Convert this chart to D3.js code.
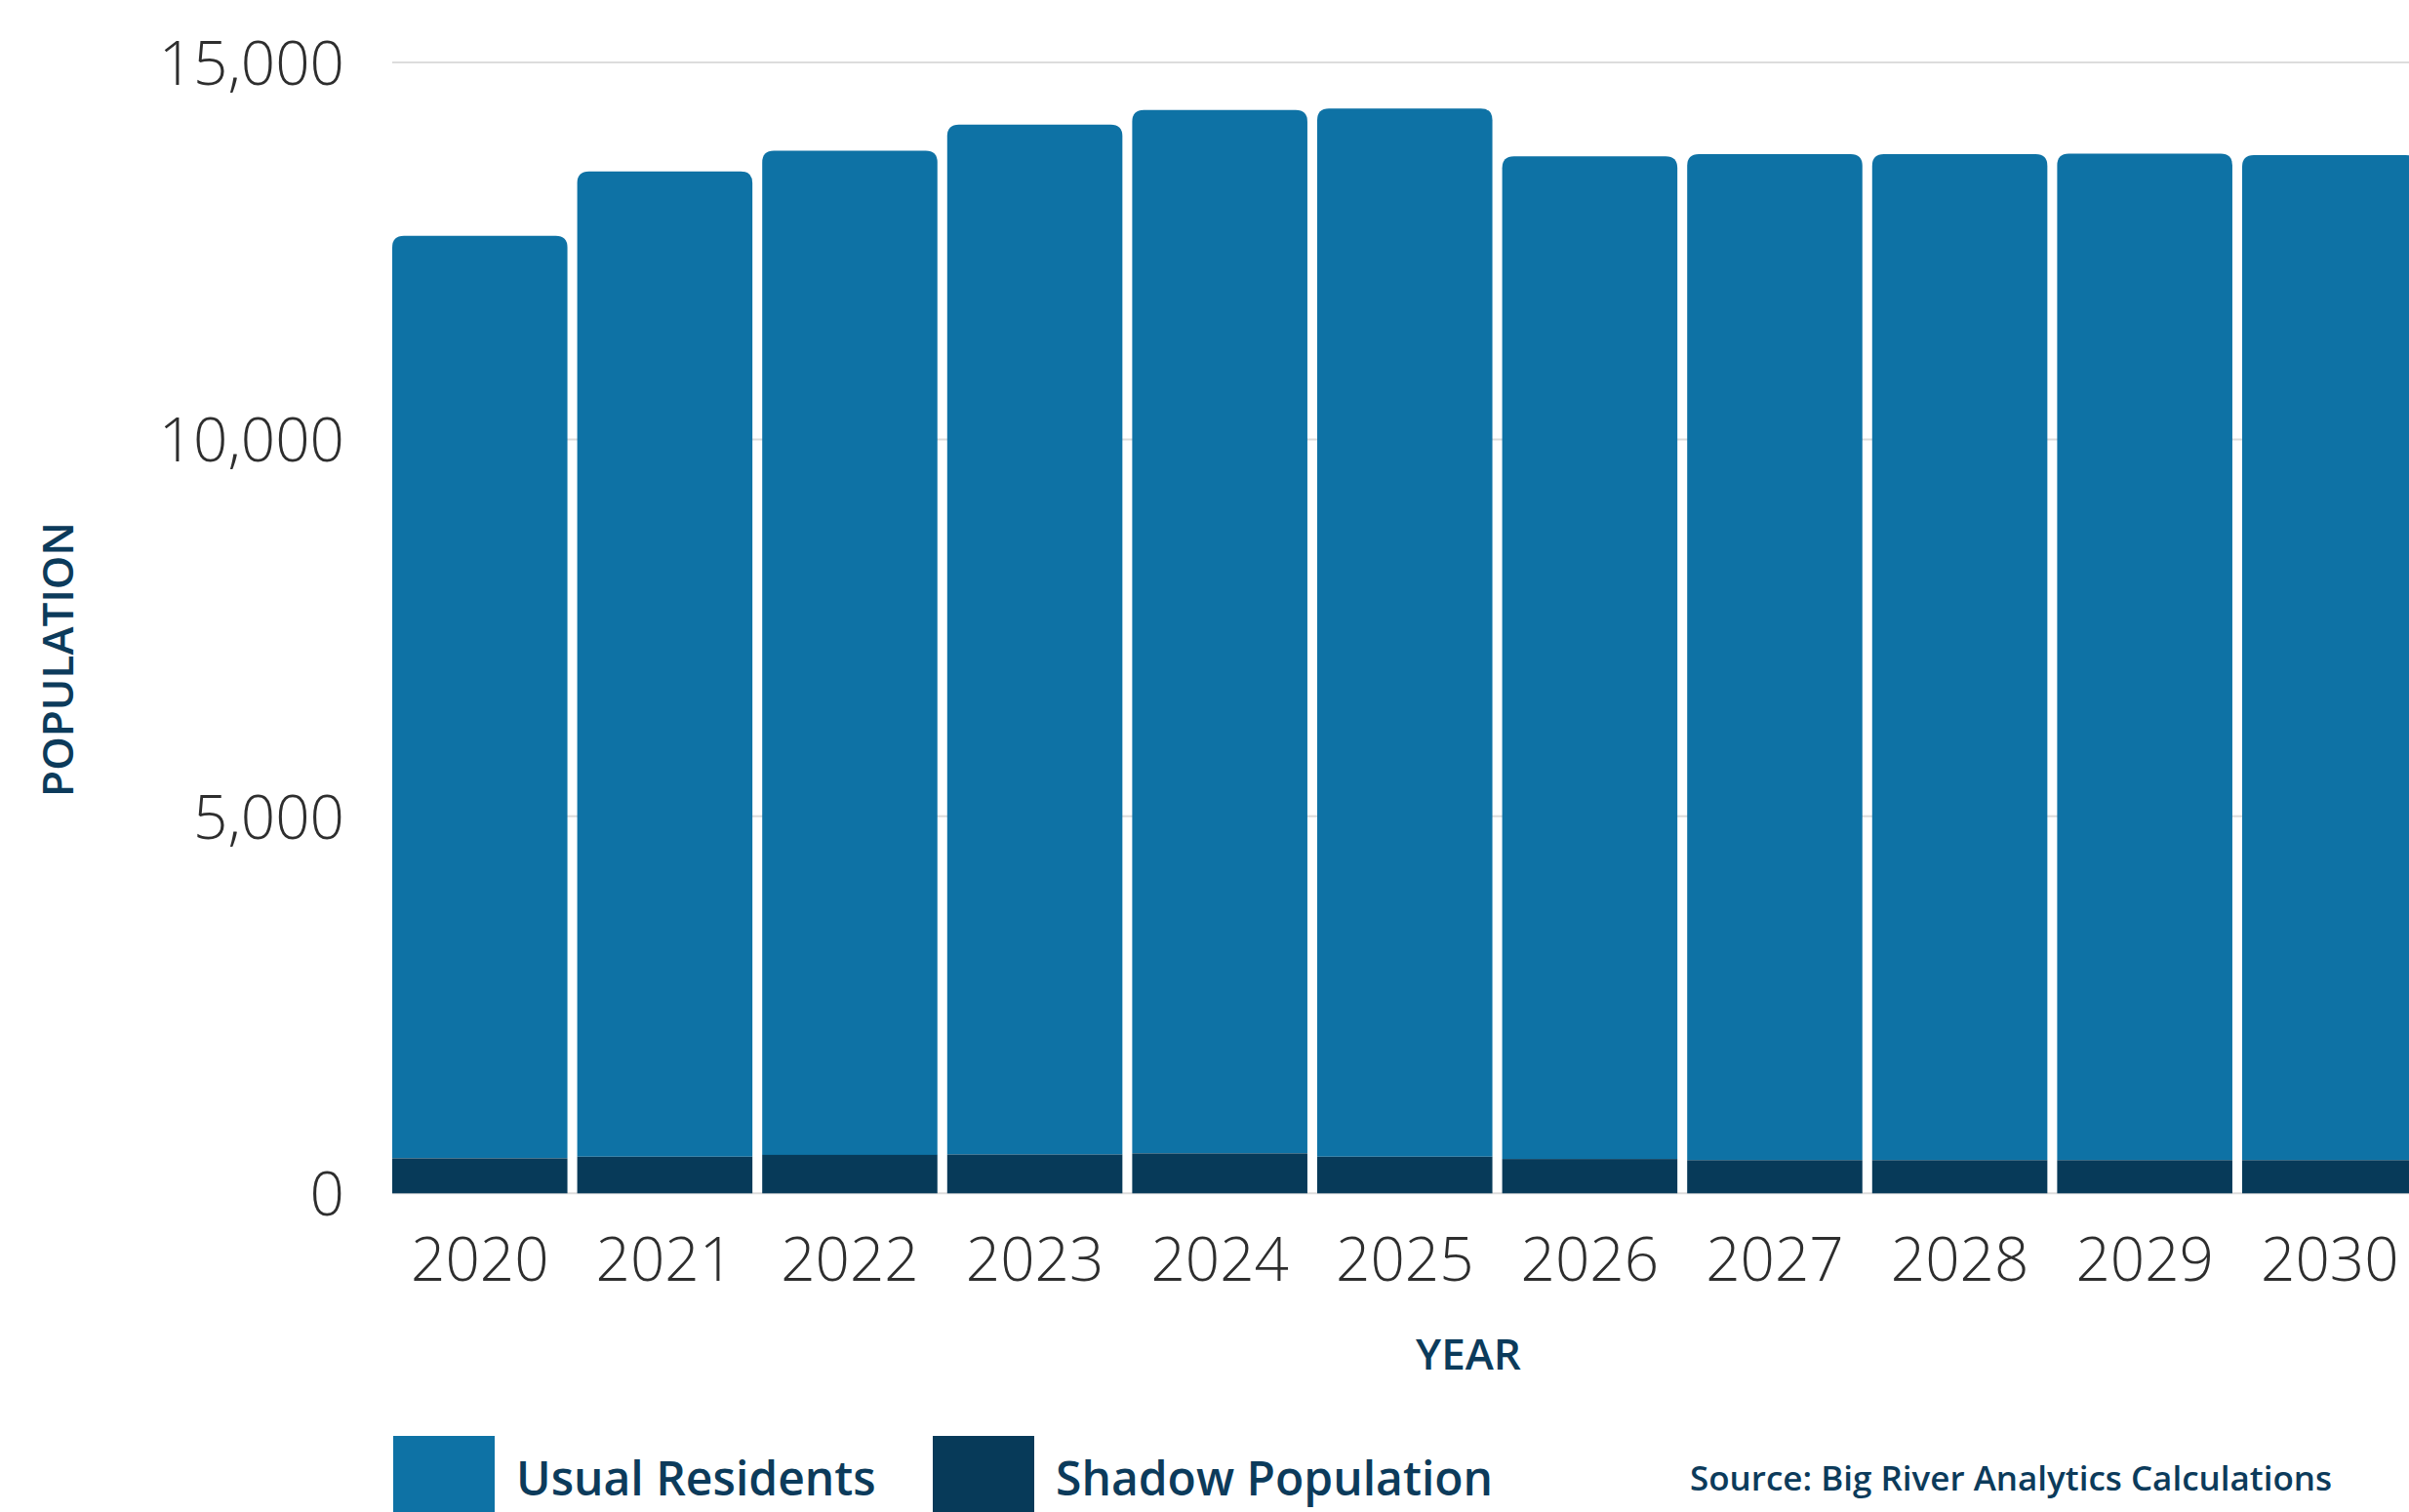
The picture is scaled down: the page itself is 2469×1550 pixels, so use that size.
<!DOCTYPE html>
<html>
<head>
<meta charset="utf-8">
<script src="https://cdn.jsdelivr.net/npm/d3@7"></script>
<style>
  html, body { margin: 0; padding: 0; background: #ffffff; overflow: hidden; }
  svg { display: block; }
</style>
</head>
<body>
<script>
// ---- data ----
const years = ["2020", "2021", "2022", "2023", "2024", "2025", "2026", "2027", "2028", "2029", "2030"];
const shadowPopulation = [465, 485, 510, 515, 530, 485, 455, 440, 440, 440, 440];
const usualResidents = [12235, 13070, 13320, 13660, 13840, 13905, 13300, 13345, 13345, 13350, 13330];
const yTicks = [0, 5000, 10000, 15000];
const seriesNames = ["Usual Residents", "Shadow Population"];
const seriesColors = ["#0e72a5", "#073a59"];
const xTitle = "YEAR";
const yTitle = "POPULATION";
const sourceText = "Source: Big River Analytics Calculations";

// ---- layout ----
const W = 2469, H = 1550;
const svg = d3.select("body").append("svg").attr("width", W).attr("height", H);

const step = 189.6, pIn = 0.053, x0 = 402;
const x = d3.scaleBand().domain(years)
  .range([x0, x0 + step * (years.length - pIn)])
  .paddingInner(pIn).paddingOuter(0);
const y = d3.scaleLinear().domain([0, 15000]).range([1223.3, 64]);

const labelFont = "'Open Sans', 'Noto Sans', sans-serif";
const navy = "#0c3b5b";

// gridlines
svg.append("g").selectAll("line").data(yTicks).join("line")
  .attr("x1", x0).attr("x2", W)
  .attr("y1", d => y(d)).attr("y2", d => y(d))
  .attr("stroke", "#dcdcdc").attr("stroke-width", 2);

// y axis labels
const yAxis = d3.axisLeft(y).tickValues(yTicks).tickFormat(d3.format(",")).tickSize(0).tickPadding(0);
const gy = svg.append("g").attr("transform", `translate(353,0)`).call(yAxis);
gy.select(".domain").remove();
gy.selectAll("text")
  .attr("font-family", labelFont).attr("font-weight", 300)
  .attr("font-size", 62).attr("fill", "#2e2e2e").attr("dy", "0.36em");

// stacked bars
const r = 12;
function topRounded(xl, yt, w, h, rad) {
  const rr = Math.min(rad, w / 2, h);
  return `M${xl},${yt + h}V${yt + rr}Q${xl},${yt} ${xl + rr},${yt}H${xl + w - rr}Q${xl + w},${yt} ${xl + w},${yt + rr}V${yt + h}Z`;
}
const bw = x.bandwidth();
const gBars = svg.append("g");
years.forEach((yr, i) => {
  const s = shadowPopulation[i], u = usualResidents[i];
  gBars.append("path")
    .attr("d", topRounded(x(yr), y(s + u), bw, y(s) - y(s + u), r))
    .attr("fill", seriesColors[0]);
  gBars.append("rect")
    .attr("x", x(yr)).attr("y", y(s))
    .attr("width", bw).attr("height", y(0) - y(s))
    .attr("fill", seriesColors[1]);
});

// x axis labels
const xAxis = d3.axisBottom(x).tickSize(0).tickPadding(0);
const gx = svg.append("g").attr("transform", `translate(0,1291)`).call(xAxis);
gx.select(".domain").remove();
gx.selectAll("text")
  .attr("font-family", labelFont).attr("font-weight", 300)
  .attr("font-size", 62).attr("fill", "#2e2e2e").attr("dy", "0.36em");

// axis titles
svg.append("text").text(xTitle)
  .attr("x", 1505).attr("y", 1389).attr("dy", "0.35em")
  .attr("text-anchor", "middle")
  .attr("font-family", labelFont).attr("font-weight", 600)
  .attr("font-size", 44).attr("fill", navy);

svg.append("text").text(yTitle)
  .attr("transform", "translate(60,676) rotate(-90)")
  .attr("dy", "0.35em").attr("text-anchor", "middle")
  .attr("font-family", labelFont).attr("font-weight", 600)
  .attr("font-size", 44).attr("fill", navy);

// legend
const legendX = [403, 956];
const legend = svg.append("g");
seriesNames.forEach((name, i) => {
  legend.append("rect")
    .attr("x", legendX[i]).attr("y", 1472).attr("width", 104).attr("height", 90)
    .attr("fill", seriesColors[i]);
  legend.append("text").text(name)
    .attr("x", legendX[i] + 126).attr("y", 1516).attr("dy", "0.35em")
    .attr("font-family", labelFont).attr("font-weight", 600)
    .attr("font-size", 48).attr("fill", navy);
});

svg.append("text").text(sourceText)
  .attr("x", 1732).attr("y", 1516).attr("dy", "0.35em")
  .attr("font-family", labelFont).attr("font-weight", 600)
  .attr("font-size", 35).attr("fill", navy);
</script>
</body>
</html>
